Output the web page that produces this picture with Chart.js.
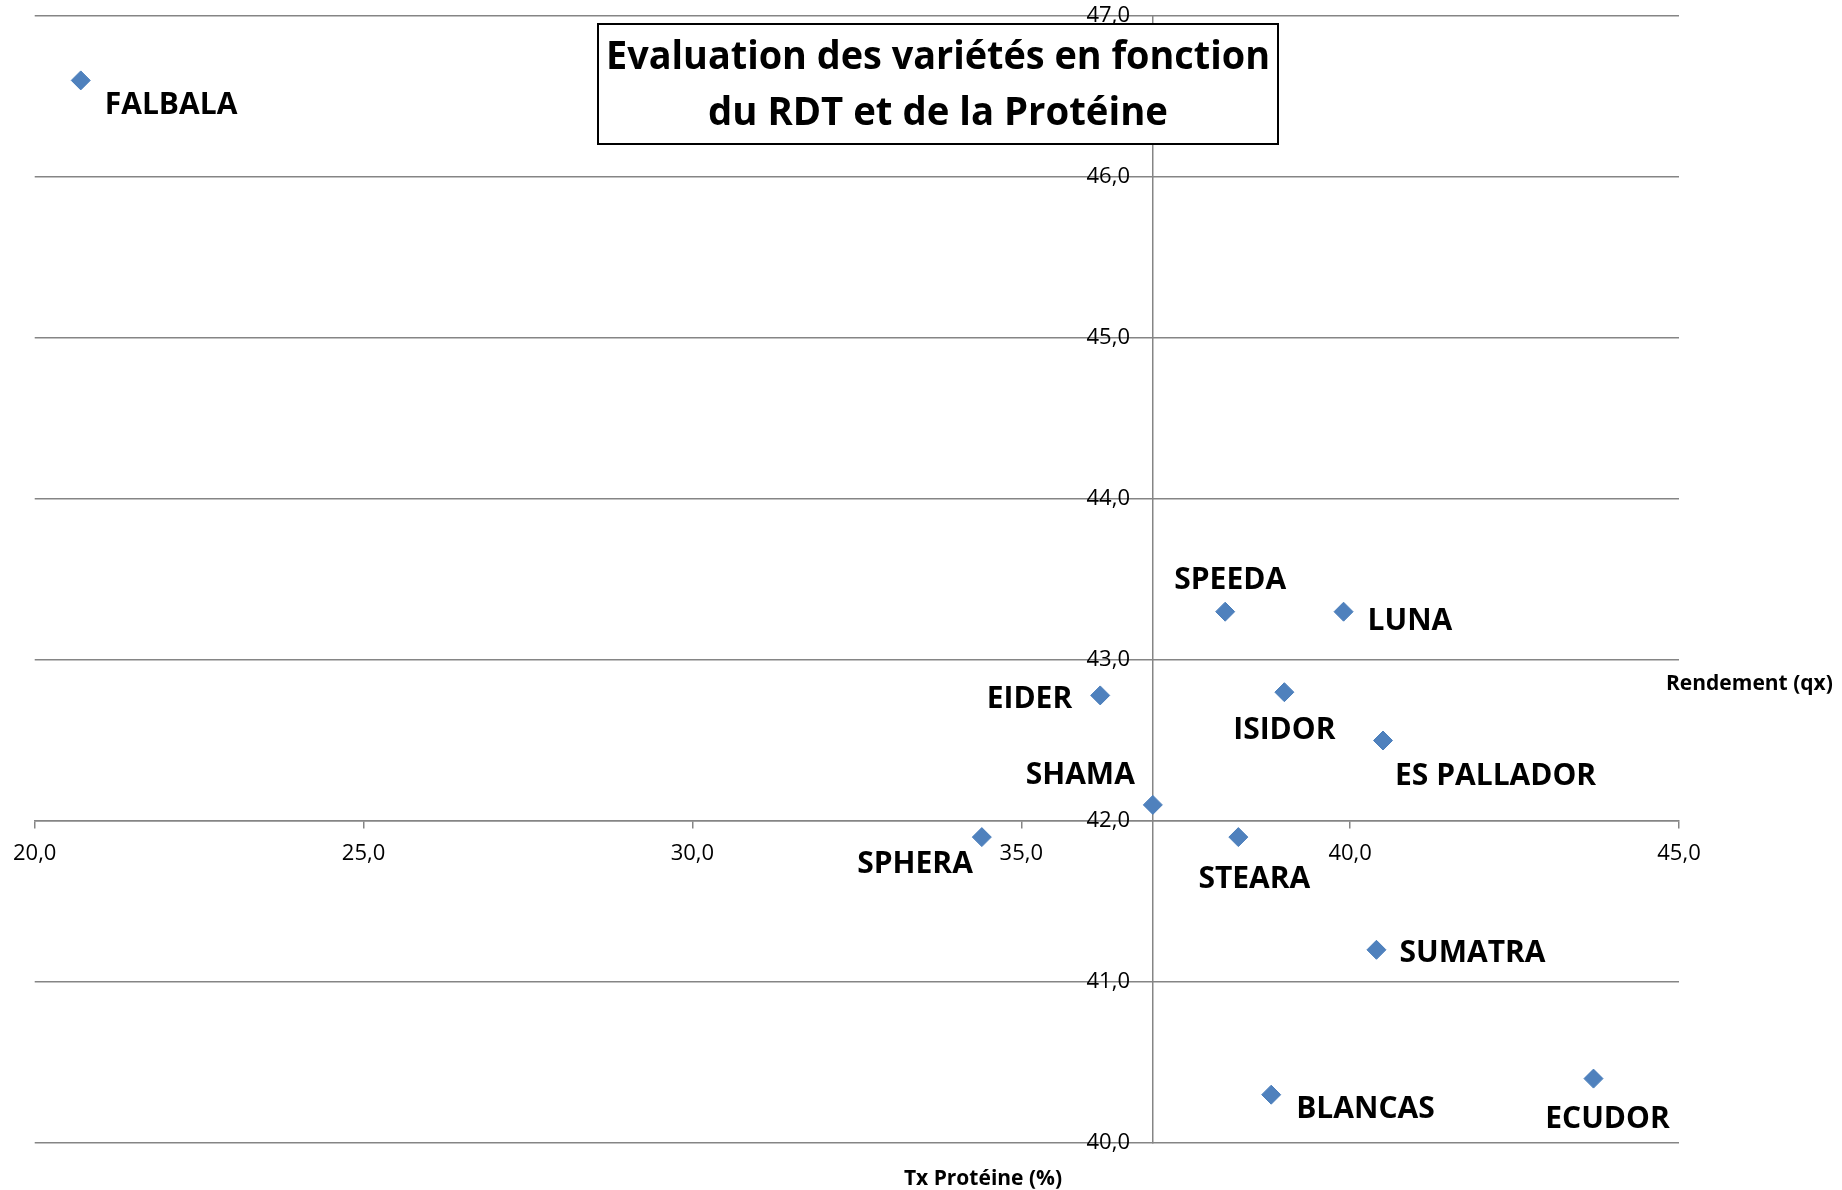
<!DOCTYPE html>
<html lang="fr">
<head>
<meta charset="utf-8">
<title>Evaluation des variétés en fonction du RDT et de la Protéine</title>
<script src="https://cdn.jsdelivr.net/npm/chart.js@4.4.1/dist/chart.umd.min.js"></script>
<style>
    html, body { margin: 0; padding: 0; background: #fff; }
    #wrap { width: 1842px; height: 1190px; }
</style>
</head>
<body>
<div id="wrap"><canvas id="chartVarietes" width="1842" height="1190"></canvas></div>
<script>
// données
var varietes   = ['FALBALA', 'SPEEDA', 'LUNA', 'EIDER', 'ISIDOR', 'ES PALLADOR', 'SHAMA', 'SPHERA', 'STEARA', 'SUMATRA', 'BLANCAS', 'ECUDOR'];
var proteines  = [20.7, 38.1, 39.9, 36.2, 39.0, 40.5, 37.0, 34.4, 38.3, 40.4, 38.8, 43.7];
var rendements = [46.6, 43.3, 43.3, 42.78, 42.8, 42.5, 42.1, 41.9, 41.9, 41.2, 40.3, 40.4];
var xTicks = [20, 25, 30, 35, 40, 45];
var yTicks = [40, 41, 42, 43, 44, 45, 46, 47];

var titre = ['Evaluation des variétés en fonction', 'du RDT et de la Protéine'];
var titreX = 'Tx Protéine (%)';
var titreY = 'Rendement (qx)';

// placement des étiquettes autour des points (px)
var placement = {
    'FALBALA':     { dx: 24,  dy: 25,  align: 'left' },
    'SPEEDA':      { dx: 5,   dy: -31, align: 'center' },
    'LUNA':        { dx: 24,  dy: 10,  align: 'left' },
    'EIDER':       { dx: -28, dy: 4,   align: 'right' },
    'ISIDOR':      { dx: 0,   dy: 38,  align: 'center' },
    'ES PALLADOR': { dx: 12,  dy: 36,  align: 'left' },
    'SHAMA':       { dx: -18, dy: -29, align: 'right' },
    'SPHERA':      { dx: -9,  dy: 27,  align: 'right' },
    'STEARA':      { dx: 16,  dy: 42,  align: 'center' },
    'SUMATRA':     { dx: 23,  dy: 4,   align: 'left' },
    'BLANCAS':     { dx: 25,  dy: 15,  align: 'left' },
    'ECUDOR':      { dx: 14,  dy: 41,  align: 'center' }
};

var GRIS = '#858585';
var POLICE = "'Open Sans', sans-serif";

function virgule(v) {
    return Number(v).toFixed(1).replace('.', ',');
}

var etiquettes = {
    id: 'etiquettes',
    afterDraw: function (chart) {
        var ctx = chart.ctx;
        var meta = chart.getDatasetMeta(0);
        ctx.save();

        // noms des variétés
        ctx.fillStyle = '#000';
        ctx.textBaseline = 'middle';
        ctx.font = 'bold 30px ' + POLICE;
        meta.data.forEach(function (pt, i) {
            var p = placement[varietes[i]];
            ctx.textAlign = p.align;
            ctx.fillText(varietes[i], pt.x + p.dx, pt.y + p.dy);
        });

        // titres des axes
        ctx.font = 'bold 21px ' + POLICE;
        ctx.textAlign = 'left';
        ctx.fillText(titreY, 1666, 684, 169);
        ctx.textAlign = 'center';
        ctx.fillText(titreX, 983, 1179, 160);

        // cadre du titre
        ctx.fillStyle = '#fff';
        ctx.fillRect(598, 24, 680, 120);
        ctx.strokeStyle = '#000';
        ctx.lineWidth = 2;
        ctx.strokeRect(598, 24, 680, 120);
        ctx.fillStyle = '#000';
        ctx.font = 'bold 38.5px ' + POLICE;
        ctx.textAlign = 'center';
        ctx.fillText(titre[0], 938, 58, 664);
        ctx.fillText(titre[1], 938, 114, 460);

        ctx.restore();
    }
};

document.addEventListener('DOMContentLoaded', function () {
    Chart.defaults.font.family = POLICE;
    Chart.defaults.color = '#000';

    new Chart(document.getElementById('chartVarietes'), {
        type: 'scatter',
        data: {
            datasets: [{
                label: 'Variétés',
                data: proteines.map(function (p, i) { return { x: p, y: rendements[i] }; }),
                pointStyle: 'rectRot',
                pointRadius: 9.5,
                pointHoverRadius: 9.5,
                backgroundColor: '#4F81BD',
                borderColor: '#4A7EBB',
                borderWidth: 1
            }]
        },
        options: {
            responsive: false,
            animation: false,
            events: [],
            layout: { padding: { left: 33, right: 163, top: 16, bottom: 47 } },
            plugins: {
                legend: { display: false },
                tooltip: { enabled: false }
            },
            scales: {
                x: {
                    type: 'linear',
                    axis: 'x',
                    position: { y: 42 },
                    min: xTicks[0],
                    max: xTicks[xTicks.length - 1],
                    ticks: { stepSize: xTicks[1] - xTicks[0], padding: 13, font: { size: 22 }, color: '#000', callback: virgule },
                    grid: { drawOnChartArea: false, drawTicks: true, tickLength: 7, color: GRIS, lineWidth: 1.5 },
                    border: { display: true, color: GRIS, width: 1.5 }
                },
                y: {
                    type: 'linear',
                    axis: 'y',
                    position: { x: 37 },
                    min: yTicks[0],
                    max: yTicks[yTicks.length - 1],
                    // l'axe placé au milieu n'applique pas le padding aux étiquettes : espaces de fin
                    ticks: { stepSize: yTicks[1] - yTicks[0], padding: 0, font: { size: 22 }, color: '#000',
                             callback: function (v) { return virgule(v) + '    '; } },
                    grid: { color: GRIS, lineWidth: 1.5, drawTicks: false },
                    border: { display: true, color: GRIS, width: 1.5 }
                }
            }
        },
        plugins: [etiquettes]
    });
});
</script>
</body>
</html>
